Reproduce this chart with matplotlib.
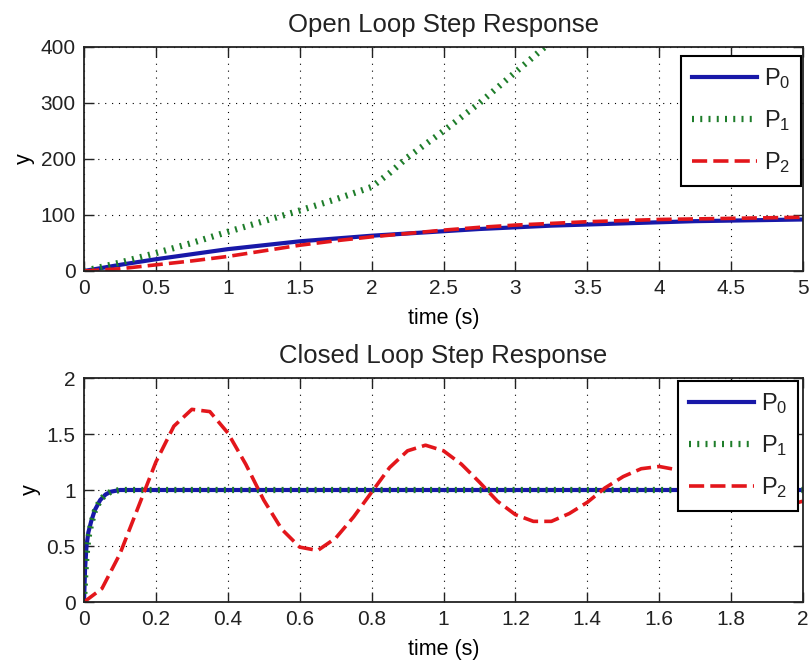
#!/usr/bin/env python3
# open loop / closed loop step responses for the three plants
import matplotlib
matplotlib.use('Agg')
import matplotlib.pyplot as plt

plt.rcParams['font.family'] = ['Liberation Sans', 'DejaVu Sans']
plt.rcParams['mathtext.fontset'] = 'custom'
plt.rcParams['mathtext.rm'] = 'Liberation Sans'
plt.rcParams['mathtext.it'] = 'Liberation Sans:italic'
plt.rcParams['text.color'] = '#222222'

# open loop responses (time in s)
t_open = [0, 0.25, 0.5, 0.75, 1, 1.25, 1.5, 1.75, 2, 2.25, 2.5, 2.75, 3,
          3.25, 3.5, 3.75, 4, 4.25, 4.5, 4.75, 5]
p0_open = [0, 11, 21, 30, 39, 46, 53, 58, 63, 67, 71, 75, 78,
           81, 83, 85, 87, 89, 90, 91, 92]
p2_open = [0, 4, 11, 18, 26, 36, 46, 54, 61, 67, 73, 78, 82,
           85, 88, 90, 92, 93, 94, 95, 96]
t_open_p1 = [0, 0.25, 0.5, 0.75, 1, 1.25, 1.5, 1.75, 2, 2.125, 2.25, 2.5,
             2.75, 3, 3.25]
p1_open = [0, 15, 32, 50, 70, 89, 108, 128, 150, 175, 203, 250,
           300, 355, 410]

# closed loop responses
t_fast = [0, 0.003, 0.007, 0.012, 0.02, 0.03, 0.045, 0.06, 0.075, 0.1, 2.0]
p0_closed = [0, 0.30, 0.50, 0.62, 0.72, 0.82, 0.91, 0.96, 0.985, 1.0, 1.0]
p1_closed = [0, 0.22, 0.42, 0.57, 0.70, 0.81, 0.91, 0.96, 0.985, 1.0, 1.0]
t_p2 = [0, 0.05, 0.1, 0.15, 0.2, 0.25, 0.3, 0.35, 0.4, 0.45, 0.5, 0.55, 0.6,
        0.65, 0.7, 0.75, 0.8, 0.85, 0.9, 0.95, 1.0, 1.05, 1.1, 1.15, 1.2,
        1.25, 1.3, 1.35, 1.4, 1.45, 1.5, 1.55, 1.6, 1.65, 1.7, 1.75, 1.8,
        1.85, 1.9, 1.95, 2.0]
p2_closed = [0.0, 0.12, 0.43, 0.84, 1.25, 1.57, 1.72, 1.70, 1.51, 1.23, 0.91,
             0.65, 0.49, 0.46, 0.57, 0.76, 0.98, 1.20, 1.35, 1.40, 1.35, 1.23,
             1.07, 0.90, 0.78, 0.72, 0.72, 0.79, 0.89, 1.02, 1.12, 1.19, 1.21,
             1.18, 1.10, 1.01, 0.93, 0.87, 0.84, 0.86, 0.90]

labels = [r'P$_\mathrm{0}$', r'P$_\mathrm{1}$', r'P$_\mathrm{2}$']

blue = '#1818a8'
green = '#1e7d2a'
red = '#e3161b'

fig = plt.figure(figsize=(8.1, 6.62), dpi=100)
ax1 = fig.add_axes([84/810, 1-271/662, 719/810, 224/662])
ax2 = fig.add_axes([84/810, 1-602/662, 719/810, 224/662])


def style(ax, xmax, ymax, xticks, yticks, title, legpos):
    ax.set_xlim(0, xmax)
    ax.set_ylim(0, ymax)
    ax.set_xticks(xticks)
    ax.set_yticks(yticks)
    ax.set_xticklabels([('%g' % v) for v in xticks])
    ax.set_yticklabels([('%g' % v) for v in yticks])
    ax.tick_params(direction='in', length=7, width=1, top=True, right=True,
                   labelsize=15, pad=6, colors='#222222')
    for s in ax.spines.values():
        s.set_linewidth(1.3)
        s.set_color('#222222')
    ax.grid(True, color='k', linestyle=(0, (1, 5.2)), linewidth=0.8)
    ax.set_xlabel('time (s)', fontsize=15.5, labelpad=7)
    ax.set_ylabel('y', fontsize=15.5, labelpad=4)
    ax.set_title(title, fontsize=18.5, pad=11)
    leg = ax.legend(loc='upper right', bbox_to_anchor=legpos, borderaxespad=0,
                    fontsize=17, handlelength=2.75, handletextpad=0.3,
                    labelspacing=0.72, borderpad=0.45, fancybox=False,
                    framealpha=1, edgecolor='k')
    leg.get_frame().set_linewidth(1.5)


# open loop
ax1.plot(t_open, p0_open, color=blue, lw=3, label=labels[0])
ax1.plot(t_open_p1, p1_open, color=green, lw=4.5,
         linestyle=(0, (0.32, 1.0)), dash_capstyle='butt', label=labels[1])
ax1.plot(t_open, p2_open, color=red, lw=2.6,
         linestyle=(0, (4.2, 1.7)), label=labels[2])
style(ax1, 5, 400, [0, 0.5, 1, 1.5, 2, 2.5, 3, 3.5, 4, 4.5, 5],
      [0, 100, 200, 300, 400], 'Open Loop Step Response', (0.997, 0.96))

# closed loop
ax2.plot(t_fast, p0_closed, color=blue, lw=3, label=labels[0])
ax2.plot(t_fast, p1_closed, color=green, lw=4.5,
         linestyle=(0, (0.32, 1.0)), dash_capstyle='butt', label=labels[1])
ax2.plot(t_p2, p2_closed, color=red, lw=2.6,
         linestyle=(0, (4.2, 1.7)), label=labels[2])
style(ax2, 2, 2, [0, 0.2, 0.4, 0.6, 0.8, 1, 1.2, 1.4, 1.6, 1.8, 2],
      [0, 0.5, 1, 1.5, 2], 'Closed Loop Step Response', (0.993, 0.987))

fig.savefig('out.png', dpi=100)
